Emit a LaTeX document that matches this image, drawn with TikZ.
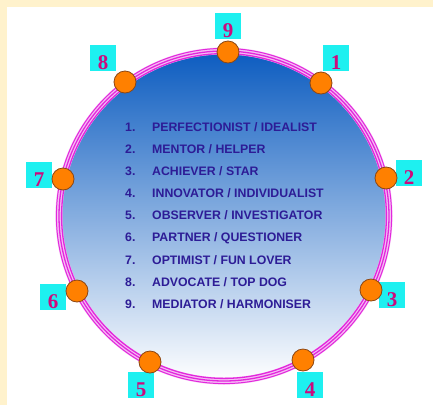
\documentclass[tikz,border=0pt]{standalone}
\usepackage{fontspec}
\setsansfont{Liberation Sans}
\newfontfamily\digitfont{Liberation Serif}
\usepackage{tikz}
\usetikzlibrary{arrows}

\definecolor{cream}{RGB}{255,242,204}
\definecolor{ringpink}{RGB}{226,40,220}
\definecolor{dotorange}{RGB}{255,128,0}
\definecolor{dotbrown}{RGB}{140,70,20}
\definecolor{tagcyan}{RGB}{30,240,240}
\definecolor{tagpink}{RGB}{205,10,125}
\definecolor{listblue}{RGB}{45,28,150}
\definecolor{discblue}{RGB}{12,92,192}
\definecolor{discmid}{RGB}{128,170,225}

\begin{document}
\begin{tikzpicture}[x=1pt,y=-1pt,
    dot/.style={circle,
                draw=dotbrown,
                line width=0.8pt,
                fill=dotorange,
                minimum size=22pt,
                inner sep=0pt},
    tag/.style={rectangle,
                fill=tagcyan,
                minimum width=26pt,
                minimum height=26pt,
                inner sep=2pt,
                text height=22pt,
                text depth=0pt,
                text=tagpink,
                font=\digitfont\bfseries\fontsize{21}{21}\selectfont},
    num/.style={anchor=base west,
                inner sep=0pt,
                text=listblue,
                font=\sffamily\bfseries\fontsize{12.3}{14}\selectfont},
    item/.style={num},
    ring/.style={ringpink,
                 line width=1.3pt}]

    % page and cream edges
    \useasboundingbox (0,0) rectangle (433,405);
    \fill[white] (0,0) rectangle (433,405);
    \fill[cream] (0,0) rectangle (433,7);
    \fill[cream] (0,0) rectangle (7,405);

    % the disc
    \coordinate (c) at (224,216);
    \shade[top color=discblue,
           middle color=discmid,
           bottom color=white] (c) circle (165);
    % triple pink rim
    \draw[white!70!ringpink, line width=7pt] (c) circle (165);
    \draw[ring] (c) circle (162.4);
    \draw[ring] (c) circle (165);
    \draw[ring, line width=1pt] (c) circle (167.6);

    % number tags
    \node[tag] (t9) at (228,26) {9};
    \node[tag] (t1) at (336,58) {1};
    \node[tag] (t2) at (409,173) {2};
    \node[tag] (t3) at (392,295) {3};
    \node[tag] (t4) at (310,385) {4};
    \node[tag] (t5) at (141,385) {5};
    \node[tag] (t6) at (53,297) {6};
    \node[tag] (t7) at (39,175) {7};
    \node[tag] (t8) at (103,58) {8};

    % points on the ring
    \node[dot] (p9) at (228,52) {};
    \node[dot] (p1) at (321,83) {};
    \node[dot] (p2) at (386,178) {};
    \node[dot] (p3) at (371,290) {};
    \node[dot] (p4) at (303,360) {};
    \node[dot] (p5) at (150,362) {};
    \node[dot] (p6) at (77,291) {};
    \node[dot] (p7) at (63,179) {};
    \node[dot] (p8) at (125,82) {};

    % the list
    \node[num] (n1) at (125,131.4) {1.};
    \node[item] (i1) at (152,131.4) {PERFECTIONIST / IDEALIST};
    \node[num] (n2) at (125,153.5) {2.};
    \node[item] (i2) at (152,153.5) {MENTOR / HELPER};
    \node[num] (n3) at (125,175.6) {3.};
    \node[item] (i3) at (152,175.6) {ACHIEVER / STAR};
    \node[num] (n4) at (125,197.7) {4.};
    \node[item] (i4) at (152,197.7) {INNOVATOR / INDIVIDUALIST};
    \node[num] (n5) at (125,219.8) {5.};
    \node[item] (i5) at (152,219.8) {OBSERVER / INVESTIGATOR};
    \node[num] (n6) at (125,241.9) {6.};
    \node[item] (i6) at (152,241.9) {PARTNER / QUESTIONER};
    \node[num] (n7) at (125,264.0) {7.};
    \node[item] (i7) at (152,264.0) {OPTIMIST / FUN LOVER};
    \node[num] (n8) at (125,286.1) {8.};
    \node[item] (i8) at (152,286.1) {ADVOCATE / TOP DOG};
    \node[num] (n9) at (125,308.2) {9.};
    \node[item] (i9) at (152,308.2) {MEDIATOR / HARMONISER};

\end{tikzpicture}
\end{document}
